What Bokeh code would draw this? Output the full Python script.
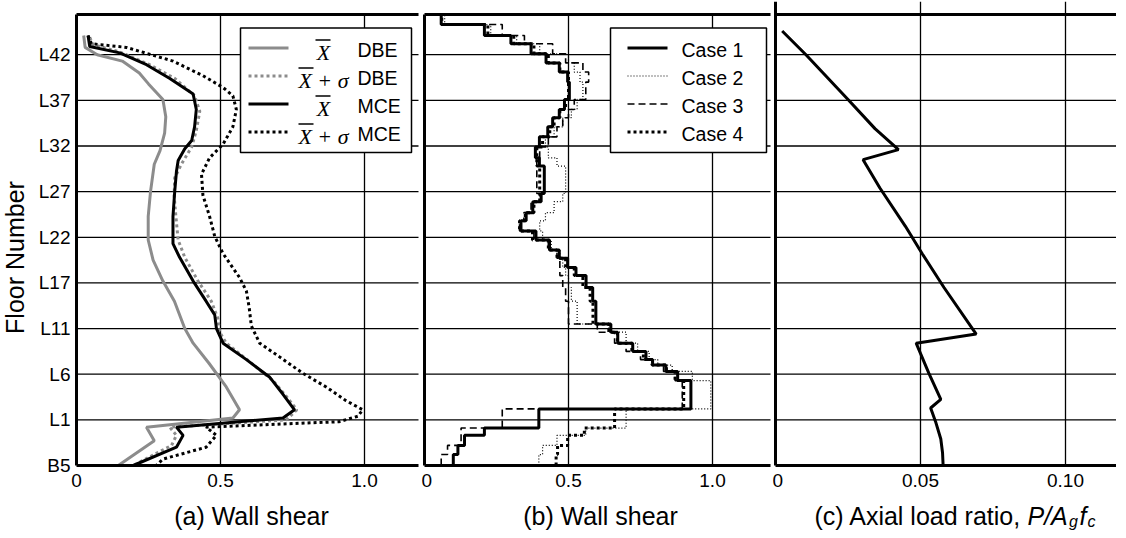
import math
from bokeh.plotting import figure
from bokeh.layouts import row
from bokeh.models import FixedTicker, Range1d
from bokeh.core.properties import value
from bokeh.embed import file_html
from bokeh.resources import INLINE

SANS = "Liberation Sans"
SERIF = "Liberation Serif"
GRAY = "#8c8c8c"

# ---------------- data ----------------
floor_ticks = [0, 5, 10, 15, 20, 25, 30, 35, 40, 45]
floor_labels = ["B5", "L1", "L6", "L11", "L17", "L22", "L27", "L32", "L37", "L42"]
shear_ticks = [0, 0.5, 1.0]
shear_labels = ["0", "0.5", "1.0"]
axial_ticks = [0, 0.05, 0.10]
axial_labels = ["0", "0.05", "0.10"]

# (a) wall shear envelopes (x = shear, y = floor position)
dbe_mean_x = [0.025, 0.03, 0.072, 0.159, 0.218, 0.25, 0.30, 0.31, 0.306, 0.29, 0.27, 0.257, 0.249, 0.249,
              0.266, 0.30, 0.34, 0.376, 0.405, 0.46, 0.52, 0.566, 0.543, 0.243, 0.27, 0.145]
dbe_mean_y = [47.1, 45.8, 45.0, 44.3, 43.0, 41.8, 40.1, 38.2, 36.4, 34.5, 33.0, 30.0, 27.3, 24.7,
              22.5, 20.2, 18.0, 15.0, 13.4, 11.2, 8.6, 6.1, 5.2, 4.2, 2.7, 0]
dbe_sig_x = [0.046, 0.058, 0.15, 0.254, 0.341, 0.41, 0.428, 0.416, 0.40, 0.364, 0.341, 0.339, 0.345, 0.353,
             0.376, 0.422, 0.468, 0.491, 0.497, 0.52, 0.60, 0.682, 0.728, 0.765, 0.728, 0.324, 0.347, 0.33, 0.197]
dbe_sig_y = [46.9, 46.1, 45.3, 43.9, 42.4, 40.5, 38.8, 36.7, 34.9, 33.0, 31.5, 29.6, 27.3, 24.7,
             22.8, 20.2, 18.0, 16.1, 14.6, 13.4, 11.4, 9.3, 7.6, 6.1, 5.0, 4.2, 3.3, 2.2, 0]
mce_mean_x = [0.04, 0.046, 0.15, 0.243, 0.324, 0.405, 0.416, 0.41, 0.40, 0.376, 0.353, 0.347, 0.341, 0.335,
              0.335, 0.358, 0.405, 0.45, 0.48, 0.486, 0.509, 0.59, 0.67, 0.717, 0.757, 0.717, 0.347, 0.37,
              0.347, 0.197]
mce_mean_y = [47.1, 45.9, 45.2, 43.9, 42.4, 40.7, 39.0, 37.1, 35.6, 34.7, 33.4, 32.2, 30.0, 27.3,
              24.3, 22.8, 20.2, 18.0, 16.5, 15.0, 13.4, 11.6, 9.7, 7.8, 6.1, 5.2, 4.2, 3.3, 2.0, 0]
mce_sig_x = [0.04, 0.052, 0.173, 0.335, 0.439, 0.509, 0.543, 0.555, 0.543, 0.509, 0.462, 0.434, 0.439, 0.462,
             0.48, 0.509, 0.566, 0.59, 0.60, 0.607, 0.636, 0.705, 0.786, 0.867, 0.936, 0.994, 0.977, 0.913,
             0.45, 0.486, 0.45, 0.30, 0.277]
mce_sig_y = [47.1, 46.2, 45.8, 44.3, 42.7, 41.4, 40.5, 39.0, 37.1, 35.2, 33.7, 31.9, 29.6, 27.3,
             25.1, 23.2, 20.6, 19.1, 17.2, 15.3, 13.4, 11.9, 10.1, 8.6, 7.1, 6.1, 5.4, 4.8,
             4.2, 3.3, 2.0, 0.7, 0]

# (b) wall shear, storey-wise values between these floor positions
storey_bounds = [0, 1.2, 2.2, 3.3, 4.1, 6.2, 9.3, 10.3, 11.0, 11.6, 12.5, 13.4, 14.6, 15.5, 18.0, 19.5,
                 20.8, 21.7, 22.7, 23.6, 24.7, 25.7, 26.8, 27.7, 28.9, 29.8, 32.8, 33.7, 34.9, 36.0, 37.1,
                 38.1, 39.0, 40.1, 42.0, 43.1, 44.1, 45.1, 46.2, 47.1, 48.3, 49.4]
case1 = [0.10, 0.116, 0.139, 0.208, 0.397, 0.925, 0.879, 0.838, 0.792, 0.769, 0.723, 0.671, 0.647, 0.595,
         0.584, 0.561, 0.526, 0.497, 0.468, 0.434, 0.387, 0.335, 0.353, 0.376, 0.405, 0.416, 0.399, 0.385,
         0.399, 0.428, 0.445, 0.468, 0.486, 0.503, 0.497, 0.468, 0.422, 0.37, 0.30, 0.208, 0.058]
case2 = [0.397, 0.41, 0.46, 0.56, 0.70, 0.994, 0.93, 0.86, 0.81, 0.78, 0.74, 0.70, 0.64, 0.53,
         0.51, 0.50, 0.49, 0.48, 0.47, 0.44, 0.41, 0.40, 0.42, 0.45, 0.48, 0.49, 0.46, 0.43,
         0.42, 0.45, 0.48, 0.51, 0.53, 0.55, 0.54, 0.52, 0.50, 0.40, 0.32, 0.23, 0.07]
case3 = [0.058, 0.08, 0.127, 0.127, 0.27, 0.895, 0.87, 0.83, 0.79, 0.75, 0.70, 0.66, 0.60, 0.50,
         0.49, 0.48, 0.47, 0.47, 0.46, 0.43, 0.38, 0.33, 0.345, 0.37, 0.40, 0.39, 0.39, 0.40,
         0.43, 0.46, 0.48, 0.50, 0.52, 0.56, 0.57, 0.55, 0.49, 0.445, 0.347, 0.27, 0.058]
case4 = [0.457, 0.462, 0.497, 0.555, 0.66, 0.90, 0.87, 0.84, 0.79, 0.76, 0.72, 0.67, 0.64, 0.585,
         0.575, 0.55, 0.52, 0.49, 0.46, 0.43, 0.375, 0.33, 0.35, 0.38, 0.40, 0.40, 0.39, 0.39,
         0.41, 0.435, 0.45, 0.47, 0.49, 0.50, 0.50, 0.47, 0.43, 0.38, 0.31, 0.22, 0.06]

# (c) axial load ratio
axial_x = [0.0023, 0.0105, 0.025, 0.0343, 0.0424, 0.0302, 0.036, 0.0448, 0.0506, 0.0581, 0.0692, 0.0485,
           0.0529, 0.057, 0.0535, 0.0552, 0.057, 0.0576, 0.0578]
axial_y = [47.6, 45.0, 40.1, 36.9, 34.6, 33.5, 30.4, 26.2, 23.2, 19.5, 14.4, 13.4,
           10.1, 7.25, 6.3, 4.8, 2.9, 1.4, 0]

# ---------------- layout constants (page pixels) ----------------
PX_FLOOR = 9.129        # pixels per floor step
PX_SHEAR = 288.0        # pixels per unit shear
PX_AXIAL = 2900.0       # pixels per unit axial ratio
AXIS0 = 473             # page y of floor position 0
PAGE_TOP = 8
FIG_H = 530
FRAME_TOP = 9


def ypos(px):
    return (AXIS0 - px) / PX_FLOOR


Y_START = ypos(PAGE_TOP + FIG_H)
Y_END = ypos(FRAME_TOP)
TOP_LINE = ypos(22)


def step_profile(bounds, vals):
    xs, ys = [], []
    for i, v in enumerate(vals):
        xs += [v, v]
        ys += [bounds[i], bounds[i + 1]]
    return xs, ys


def make_panel(page_left, page_right, zero_px, px_per_unit, right_end_px, ticks, labels, ytop):
    """Figure whose frame covers its whole canvas; axes sit at data zero."""
    def xd(px):
        return (px - zero_px) / px_per_unit

    p = figure(width=page_right - page_left, height=FIG_H,
               x_range=Range1d(xd(page_left), xd(page_right)), y_range=Range1d(Y_START, Y_END),
               output_backend="svg", toolbar_location=None, title=None,
               min_border_left=0, min_border_right=0, min_border_top=FRAME_TOP - PAGE_TOP,
               min_border_bottom=0)
    p.outline_line_color = None
    p.background_fill_color = "white"
    p.border_fill_color = "white"
    xend = xd(right_end_px)
    for ax in (p.xaxis[0], p.yaxis[0]):
        ax.fixed_location = 0
        ax.axis_line_width = 3
        ax.axis_line_color = "black"
        ax.major_tick_line_color = None
        ax.minor_tick_line_color = None
        ax.major_tick_out = 0
        ax.major_tick_in = 0
        ax.minor_tick_out = 0
        ax.minor_tick_in = 0
        ax.major_label_text_font = SANS
        ax.major_label_text_font_size = "19px"
        ax.major_label_text_color = "black"
    p.xaxis.ticker = FixedTicker(ticks=ticks)
    p.xaxis.major_label_overrides = {t: l for t, l in zip(ticks, labels)}
    p.xaxis.major_label_standoff = 8
    p.xaxis.bounds = (0, xend)
    p.yaxis.bounds = (0, ytop)
    p.yaxis.ticker = FixedTicker(ticks=[])
    p.xgrid.visible = False
    p.ygrid.visible = False
    # horizontal floor grid lines
    gy = floor_ticks[1:]
    p.segment(x0=[0] * len(gy), x1=[xend] * len(gy), y0=gy, y1=gy,
              line_color="black", line_width=1.3, level="underlay")
    # vertical grid lines
    gx = ticks[1:]
    p.segment(x0=gx, x1=gx, y0=[0] * len(gx), y1=[ytop] * len(gx),
              line_color="black", line_width=1.3, level="underlay")
    # heavy top line
    p.segment(x0=[0], x1=[xend], y0=[TOP_LINE], y1=[TOP_LINE], line_color="black", line_width=3)
    return p, xd


LAB_PX = 523


def axis_title(p, x, text):
    p.text(x=[x], y=[ypos(LAB_PX)], text=[text], text_font=value(SANS), text_font_size="25px",
           text_align="center", text_baseline="middle", text_color="black")


# ---------------- panel (a) ----------------
pa, xa = make_panel(8, 429, 84, PX_SHEAR, 426, shear_ticks, shear_labels, TOP_LINE)
pa.yaxis.ticker = FixedTicker(ticks=floor_ticks)
pa.yaxis.major_label_overrides = {t: l for t, l in zip(floor_ticks, floor_labels)}
pa.yaxis.major_label_standoff = 6
axis_title(pa, xa(259), "(a) Wall shear")
pa.text(x=[xa(22)], y=[ypos(265)], text=["Floor Number"], angle=math.pi / 2, text_font=value(SANS),
        text_font_size="25px", text_align="center", text_baseline="middle", text_color="black")

pa.line(dbe_mean_x, dbe_mean_y, line_color=GRAY, line_width=3)
pa.line(dbe_sig_x, dbe_sig_y, line_color=GRAY, line_width=3, line_dash="3 3")
pa.line(mce_mean_x, mce_mean_y, line_color="black", line_width=3)
pa.line(mce_sig_x, mce_sig_y, line_color="black", line_width=3, line_dash="3 3")

rows_px = [55.5, 83.5, 111.5, 139.5]
pa.quad(left=[xa(248)], right=[xa(419)], bottom=[ypos(160)], top=[ypos(35.5)],
        fill_color="white", line_color="black", line_width=1.5)
leg_a_styles = [(GRAY, None), (GRAY, "3 3"), ("black", None), ("black", "3 3")]
for rp, (col, dash) in zip(rows_px, leg_a_styles):
    kw = dict(line_color=col, line_width=3)
    if dash:
        kw["line_dash"] = dash
    pa.line([xa(256), xa(296)], [ypos(rp), ypos(rp)], **kw)
leg_a_stat = ["X", "X + \u03c3", "X", "X + \u03c3"]
leg_a_case = ["DBE", "DBE", "MCE", "MCE"]
pa.text(x=[xa(331)] * 4, y=[ypos(rp + 4) for rp in rows_px], text=leg_a_stat,
        text_font=value(SERIF), text_font_style="italic", text_font_size="22px",
        text_align="center", text_baseline="middle", text_color="black")
bar_x0 = [323, 306, 323, 306]
pa.segment(x0=[xa(b) for b in bar_x0], x1=[xa(b + 15) for b in bar_x0],
           y0=[ypos(rp - 8) for rp in rows_px], y1=[ypos(rp - 8) for rp in rows_px],
           line_color="black", line_width=1.3)
pa.text(x=[xa(365)] * 4, y=[ypos(rp + 1.5) for rp in rows_px], text=leg_a_case,
        text_font=value(SANS), text_font_size="19.5px", text_align="left", text_baseline="middle",
        text_color="black")

# ---------------- panel (b) ----------------
pb, xb = make_panel(429, 780, 432, PX_SHEAR, 778, shear_ticks, shear_labels, TOP_LINE)
axis_title(pb, xb(608), "(b) Wall shear")

case_styles = [dict(line_width=3), dict(line_width=1.2, line_dash="1 2"),
               dict(line_width=1.6, line_dash="7 4"), dict(line_width=3, line_dash="3 3")]
for vals, st in zip([case2, case3, case4, case1],
                    [case_styles[1], case_styles[2], case_styles[3], case_styles[0]]):
    xs, ys = step_profile(storey_bounds, vals)
    pb.line(xs, ys, line_color="black", **st)

pb.quad(left=[xb(618)], right=[xb(774)], bottom=[ypos(160)], top=[ypos(35.5)],
        fill_color="white", line_color="black", line_width=1.5)
case_names = ["Case 1", "Case 2", "Case 3", "Case 4"]
for rp, st in zip(rows_px, case_styles):
    pb.line([xb(635), xb(675)], [ypos(rp), ypos(rp)], line_color="black", **st)
pb.text(x=[xb(689)] * 4, y=[ypos(rp + 1.5) for rp in rows_px], text=case_names,
        text_font=value(SANS), text_font_size="19.5px", text_align="left", text_baseline="middle",
        text_color="black")

# ---------------- panel (c) ----------------
pc, xc = make_panel(780, 1124, 783, PX_AXIAL, 1124, axial_ticks, axial_labels, Y_END)
pc.line(axial_x, axial_y, line_color="black", line_width=3)

lab_y = ypos(LAB_PX)
sub_y = ypos(LAB_PX + 5.5)
pc.text(x=[xc(822)], y=[lab_y], text=["(c) Axial load ratio, "], text_font=value(SANS),
        text_font_size="25px", text_align="left", text_baseline="middle", text_color="black")
pc.text(x=[xc(1035), xc(1087)], y=[lab_y, lab_y], text=["P/A", "f"], text_font=value(SANS),
        text_font_style="italic", text_font_size="25px", text_align="left", text_baseline="middle",
        text_color="black")
pc.text(x=[xc(1076.5), xc(1095)], y=[sub_y, sub_y], text=["g", "c"],
        text_font=value(SANS), text_font_style="italic", text_font_size="16px", text_align="left",
        text_baseline="middle", text_color="black")

layout = row(pa, pb, pc)
open("out.html", "w").write(file_html(layout, INLINE))
